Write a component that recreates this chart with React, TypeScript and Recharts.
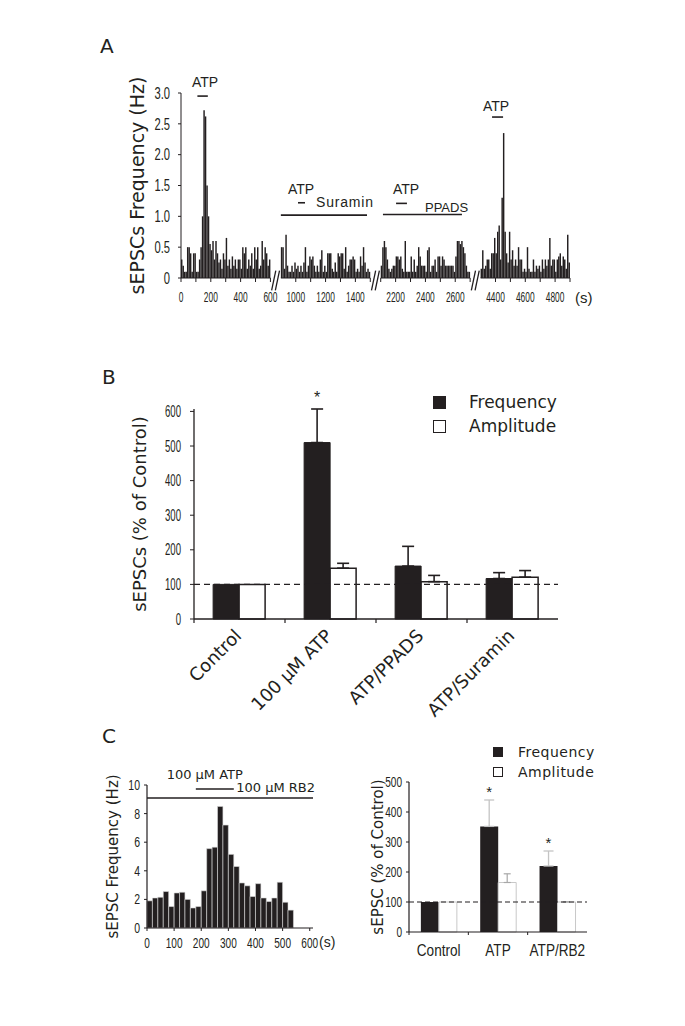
import React from "react";
import {
  BarChart,
  Bar,
  XAxis,
  YAxis,
  ReferenceLine,
  ReferenceDot,
  ErrorBar,
  LabelList,
  Legend,
} from "recharts";

const INK = "#231f20";
const NARROW = "'Liberation Sans', Arial, sans-serif";
const ROUND = "'DejaVu Sans', Verdana, sans-serif";

// ---------------- Panel A: sEPSC frequency, 10 s bins, four recording windows
const windowStartA = [0, 900, 2100, 4300]; // s
const WINDOW_LEN = 600; // s shown per window
const WINDOW_GAP = 70; // axis units kept blank for the break marks
const BIN_A = 10;

const ratesA1 = [
  0.3, 0.2, 0.1, 0.1, 0.5, 0.5, 0.4, 0.1, 0.4, 0.4,
  0.1, 0.1, 0.3, 0.5, 1.0, 2.72, 2.62, 1.5, 1.0, 0.55,
  0.45, 0.6, 0.3, 0.6, 0.4, 0.25, 0.3, 0.15, 0.4, 0.3,
  0.65, 0.2, 0.3, 0.15, 0.35, 0.2, 0.3, 0.15, 0.3, 0.3,
  0.15, 0.5, 0.4, 0.5, 0.15, 0.3, 0.2, 0.4, 0.15, 0.5,
  0.3, 0.5, 0.15, 0.2, 0.6, 0.3, 0.5, 0.4, 0.2, 0.3,
];
const ratesA2 = [
  0.5, 0.5, 0.15, 0.7, 0.2, 0.1, 0.1, 0.2, 0.1, 0.25,
  0.15, 0.2, 0.1, 0.2, 0.1, 0.25, 0.5, 0.1, 0.2, 0.35,
  0.3, 0.35, 0.2, 0.1, 0.2, 0.1, 0.3, 0.45, 0.1, 0.2,
  0.1, 0.4, 0.4, 0.4, 0.15, 0.1, 0.25, 0.1, 0.4, 0.35,
  0.4, 0.4, 0.15, 0.5, 0.1, 0.2, 0.3, 0.3, 0.35, 0.3,
  0.1, 0.15, 0.1, 0.35, 0.2, 0.5, 0.25, 0.1, 0.15, 0.1,
];
const ratesA3 = [
  0.2, 0.5, 0.6, 0.5, 0.3, 0.15, 0.1, 0.15, 0.2, 0.2,
  0.35, 0.35, 0.3, 0.35, 0.15, 0.1, 0.6, 0.1, 0.1, 0.1,
  0.35, 0.1, 0.3, 0.1, 0.2, 0.5, 0.35, 0.2, 0.2, 0.2,
  0.1, 0.45, 0.5, 0.1, 0.2, 0.2, 0.3, 0.1, 0.35, 0.35,
  0.2, 0.35, 0.3, 0.2, 0.2, 0.2, 0.2, 0.2, 0.2, 0.1,
  0.35, 0.6, 0.6, 0.55, 0.6, 0.5, 0.4, 0.2, 0.1, 0.1,
];
const ratesA4 = [
  0.15, 0.45, 0.15, 0.2, 0.3, 0.3, 0.15, 0.4, 0.4, 0.65,
  0.4, 0.75, 0.85, 0.3, 1.3, 2.35, 0.75, 0.4, 0.25, 0.75,
  0.3, 0.45, 0.2, 0.3, 0.2, 0.5, 0.3, 0.3, 0.1, 0.15,
  0.1, 0.5, 0.15, 0.1, 0.1, 0.3, 0.1, 0.2, 0.15, 0.2,
  0.1, 0.3, 0.15, 0.3, 0.2, 0.3, 0.65, 0.2, 0.3, 0.3,
  0.1, 0.3, 0.35, 0.4, 0.2, 0.35, 0.3, 0.15, 0.7, 0.25,
];
const windowRatesA = [ratesA1, ratesA2, ratesA3, ratesA4];

const tickTimesA = [
  [0, 100, 200, 300, 400, 500, 600],
  [1000, 1100, 1200, 1300, 1400, 1500],
  [2100, 2200, 2300, 2400, 2500, 2600, 2700],
  [4400, 4500, 4600, 4700, 4800, 4900],
];
const labelTimesA = [0, 200, 400, 600, 1000, 1200, 1400, 2200, 2400, 2600, 4400, 4600, 4800];
const yTicksA = [0, 0.5, 1, 1.5, 2, 2.5, 3];

// drug application bars (window, from s, to s, drawn at Hz)
const drugBarsA = [
  { w: 0, from: 110, to: 180, at: 2.95 },
  { w: 1, from: 900, to: 1478, at: 1.02 },
  { w: 1, from: 1015, to: 1062, at: 1.22 },
  { w: 2, from: 2115, to: 2645, at: 1.03 },
  { w: 2, from: 2203, to: 2276, at: 1.21 },
  { w: 3, from: 4377, to: 4451, at: 2.61 },
];
const drugTextA = [
  { w: 0, t: 161, at: 3.18, text: "ATP", anchor: "middle", size: 14, spacing: 0 },
  { w: 1, t: 1036, at: 1.44, text: "ATP", anchor: "middle", size: 14, spacing: 0 },
  { w: 1, t: 1136, at: 1.23, text: "Suramin", anchor: "start", size: 14, spacing: 0.8 },
  { w: 2, t: 2270, at: 1.44, text: "ATP", anchor: "middle", size: 14, spacing: 0 },
  { w: 2, t: 2397, at: 1.15, text: "PPADS", anchor: "start", size: 13, spacing: 0 },
  { w: 3, t: 4404, at: 2.79, text: "ATP", anchor: "middle", size: 14, spacing: 0 },
];

const STRIDE_A = WINDOW_LEN + WINDOW_GAP;
const DOMAIN_A = 4 * WINDOW_LEN + 3 * WINDOW_GAP;
const posA = (w: number, t: number) => w * STRIDE_A + (t - windowStartA[w]);
const timeAtPosA = (p: number) => {
  const w = Math.min(3, Math.floor(p / STRIDE_A));
  return Math.round(p - w * STRIDE_A + windowStartA[w]);
};

const dataA = windowRatesA.flatMap((rates, w) =>
  rates.map((rate, i) => ({ pos: posA(w, windowStartA[w] + i * BIN_A + BIN_A / 2), rate }))
);
const tickPosA = tickTimesA.flatMap((ts, w) => ts.map((t) => posA(w, t)));

// ---------------- Panel B: summary, % of control
const seriesOrder = ["Frequency", "Amplitude"];
const groupsB = ["Control", "100 \u03bcM ATP", "ATP/PPADS", "ATP/Suramin"];
const freqB = [100, 510, 153, 117];
const freqSemB = [0, 97, 57, 17];
const ampB = [100, 147, 108, 121];
const ampSemB = [0, 14, 18, 19];
const starB = ["", "*", "", ""];
const yTicksB = [0, 100, 200, 300, 400, 500, 600];

// ---------------- Panel C left: histogram, 20 s bins
const BIN_C = 20;
const binStartC = [0, 20, 40, 60, 80, 100, 120, 140, 160, 180, 200, 220, 240, 260, 280, 300, 320, 340, 360, 380, 400, 420, 440, 460, 480, 500, 520];
const rateC = [1.9, 2.1, 2.15, 2.55, 1.5, 2.45, 2.5, 2.0, 1.4, 1.5, 2.6, 5.55, 5.65, 8.5, 7.2, 5.15, 4.3, 3.15, 2.95, 2.2, 3.1, 2.1, 1.85, 2.1, 3.2, 1.8, 1.25];
const xTicksC = [0, 100, 200, 300, 400, 500, 600];
const yTicksC = [0, 2, 4, 6, 8, 10];

// ---------------- Panel C right: summary, % of control
const groupsC = ["Control", "ATP", "ATP/RB2"];
const freqC = [100, 352, 220];
const freqSemC = [0, 88, 50];
const ampC = [100, 165, 100];
const ampSemC = [0, 29, 1];
const starC = ["", "*", "*"];
const yTicksC2 = [0, 100, 200, 300, 400, 500];

const errPair = (e: number) => (e > 0 ? [0, e] : null);

const dataB = groupsB.map((group, i) => ({
  group,
  freq: freqB[i],
  amp: ampB[i],
  freqErr: errPair(freqSemB[i]),
  ampErr: errPair(ampSemB[i]),
  star: starB[i],
}));
const dataC = binStartC.map((s, i) => ({ t: s + BIN_C / 2, rate: rateC[i] }));
const dataC2 = groupsC.map((group, i) => ({
  group,
  freq: freqC[i],
  amp: ampC[i],
  freqErr: errPair(freqSemC[i]),
  ampErr: errPair(ampSemC[i]),
  star: starC[i],
}));

// ---------------- shared renderers
const narrowTick =
  (size: number, squeeze: number, fmt: (v: any) => string, dy: string, anchor: string) =>
  (props: any) => {
    const { x, y, payload } = props;
    const label = fmt(payload.value);
    if (!label) return <g />;
    return (
      <g transform={`translate(${x},${y})`}>
        <text transform={`scale(${squeeze},1)`} textAnchor={anchor} dy={dy} fontSize={size} fontFamily={NARROW} fill={INK}>
          {label}
        </text>
      </g>
    );
  };

const textShape =
  (text: string, size: number, anchor: string, family: string, spacing = 0) =>
  (p: any) => (
    <text x={p.cx} y={p.cy} dy="0.35em" textAnchor={anchor} fontSize={size} fontFamily={family} letterSpacing={spacing} fill={INK}>
      {text}
    </text>
  );

const starContent =
  (values: number[], sems: number[], stars: string[], size: number, lift: number) => (props: any) => {
    const i = props.index;
    if (!stars[i]) return null;
    const vb = props.viewBox ?? props;
    const k = vb.height / values[i];
    const top = vb.y - sems[i] * k;
    return (
      <text x={vb.x + vb.width / 2} y={top - lift} textAnchor="middle" fontSize={size} fontFamily={NARROW} fill={INK}>
        {stars[i]}
      </text>
    );
  };

const legendContent =
  (box: number, gap: number, size: number, row: number, spacing = 0) => (props: any) => {
    const items = [...(props.payload ?? [])].sort(
      (a: any, b: any) => seriesOrder.indexOf(a.value) - seriesOrder.indexOf(b.value)
    );
    return (
      <div style={{ fontFamily: ROUND, fontSize: size, color: INK, letterSpacing: spacing }}>
        {items.map((e: any) => (
          <div key={e.value} style={{ display: "flex", alignItems: "center", height: row }}>
            <span
              style={{
                display: "inline-block",
                width: box,
                height: box,
                boxSizing: "border-box",
                background: e.color,
                border: `1.5px solid ${INK}`,
              }}
            />
            <span style={{ marginLeft: gap }}>{e.value}</span>
          </div>
        ))}
      </div>
    );
  };

function PanelLetter({ left, top, children }: { left: number; top: number; children: string }) {
  return (
    <div style={{ position: "absolute", left, top, fontFamily: ROUND, fontSize: 20, lineHeight: 1, color: INK }}>
      {children}
    </div>
  );
}

// ---------------- Panel A
function FrequencyTrace() {
  return (
    <BarChart width={520} height={260} data={dataA} margin={{ top: 33, right: 45, bottom: 2, left: 0 }} barGap={0}>
      <XAxis
        type="number"
        dataKey="pos"
        domain={[0, DOMAIN_A]}
        ticks={tickPosA}
        interval={0}
        axisLine={false}
        tickLine={{ stroke: INK }}
        tickSize={4}
        tickMargin={10}
        height={40}
        tick={narrowTick(14, 0.6, (p) => {
          const t = timeAtPosA(p);
          return labelTimesA.includes(t) ? String(t) : "";
        }, "0.71em", "middle")}
        label={{ value: "(s)", position: "right", offset: 5, fontSize: 15, fontFamily: NARROW, fill: INK }}
      />
      <YAxis
        domain={[0, 3]}
        ticks={yTicksA}
        width={86}
        axisLine={{ stroke: INK }}
        tickLine={{ stroke: INK }}
        tickSize={3}
        tickMargin={8}
        tick={narrowTick(16, 0.7, (v) => (v === 0 ? "0" : v.toFixed(1)), "0.355em", "end")}
        label={{
          value: "sEPSCs Frequency (Hz)",
          angle: -90,
          position: "insideLeft",
          offset: 42,
          fontSize: 19,
          fontFamily: ROUND,
          fill: INK,
          style: { textAnchor: "middle" },
        }}
      />
      <Bar dataKey="rate" fill={INK} barSize={1.45} isAnimationActive={false} />
      {windowStartA.map((s, w) => (
        <ReferenceLine key={`base${w}`} segment={[{ x: posA(w, s), y: 0 }, { x: posA(w, s + WINDOW_LEN), y: 0 }]} stroke={INK} />
      ))}
      {[0, 1, 2].map((w) => {
        const g = w * STRIDE_A + WINDOW_LEN;
        return [8, 33].map((d) => (
          <ReferenceLine
            key={`brk${w}-${d}`}
            ifOverflow="visible"
            segment={[{ x: g + d, y: -0.2 }, { x: g + d + 28, y: 0.12 }]}
            stroke={INK}
            strokeWidth={1.3}
          />
        ));
      })}
      {drugBarsA.map((b, i) => (
        <ReferenceLine
          key={`drug${i}`}
          ifOverflow="visible"
          segment={[{ x: posA(b.w, b.from), y: b.at }, { x: posA(b.w, b.to), y: b.at }]}
          stroke={INK}
          strokeWidth={1.6}
        />
      ))}
      {drugTextA.map((d, i) => (
        <ReferenceDot
          key={`txt${i}`}
          x={posA(d.w, d.t)}
          y={d.at}
          r={1}
          ifOverflow="visible"
          shape={textShape(d.text, d.size, d.anchor, NARROW, d.spacing)}
        />
      ))}
    </BarChart>
  );
}

// ---------------- Panel B
const PLOT_W_B = 364;
const rotatedTickB = (props: any) => {
  const { x, y, payload } = props;
  const half = PLOT_W_B / groupsB.length / 2;
  return (
    <g>
      <line x1={x - half} x2={x - half} y1={y} y2={y + 4} stroke={INK} strokeWidth={1.2} />
      <text
        transform={`translate(${x + 3},${y + 18}) rotate(-45)`}
        textAnchor="end"
        fontSize={18}
        fontFamily={ROUND}
        fill={INK}
      >
        {payload.value}
      </text>
    </g>
  );
};

function SummaryB() {
  return (
    <BarChart
      width={500}
      height={350}
      data={dataB}
      margin={{ top: 29, right: 37, bottom: 26, left: 0 }}
      barCategoryGap="21%"
      barGap={0}
    >
      <XAxis
        dataKey="group"
        interval={0}
        tickLine={false}
        tickSize={0}
        tickMargin={0}
        height={85}
        axisLine={{ stroke: INK, strokeWidth: 1.5 }}
        tick={rotatedTickB}
      />
      <YAxis
        domain={[0, 600]}
        ticks={yTicksB}
        width={99}
        axisLine={{ stroke: INK, strokeWidth: 1.3 }}
        tickLine={{ stroke: INK }}
        tickSize={4}
        tickMargin={9}
        tick={narrowTick(16, 0.6, String, "0.355em", "end")}
        label={{
          value: "sEPSCs (% of Control)",
          angle: -90,
          position: "insideLeft",
          offset: 45,
          fontSize: 18,
          fontFamily: ROUND,
          fill: INK,
          style: { textAnchor: "middle" },
        }}
      />
      <Legend
        layout="vertical"
        align="center"
        verticalAlign="middle"
        wrapperStyle={{ left: 338, top: 10, width: 200 }}
        content={legendContent(13, 23, 17, 24)}
      />
      <Bar dataKey="freq" name="Frequency" fill={INK} stroke={INK} strokeWidth={1} isAnimationActive={false}>
        <ErrorBar dataKey="freqErr" direction="y" width={6} stroke={INK} strokeWidth={1.6} />
        <LabelList dataKey="star" content={starContent(freqB, freqSemB, starB, 16, 6)} />
      </Bar>
      <Bar dataKey="amp" name="Amplitude" fill="#ffffff" stroke={INK} strokeWidth={1.5} isAnimationActive={false}>
        <ErrorBar dataKey="ampErr" direction="y" width={6} stroke={INK} strokeWidth={1.6} />
      </Bar>
      <ReferenceLine y={100} stroke={INK} strokeDasharray="6 4" strokeWidth={1.1} />
    </BarChart>
  );
}

// ---------------- Panel C left
function HistogramC() {
  return (
    <BarChart width={250} height={200} data={dataC} margin={{ top: 25, right: 32, bottom: 4, left: 0 }} barGap={0}>
      <XAxis
        type="number"
        dataKey="t"
        domain={[0, 612]}
        ticks={xTicksC}
        interval={0}
        axisLine={{ stroke: INK, strokeWidth: 1.2 }}
        tickLine={{ stroke: INK }}
        tickSize={3}
        tickMargin={7}
        height={28}
        tick={narrowTick(14, 0.72, String, "0.71em", "middle")}
        label={{ value: "(s)", position: "right", offset: 6, fontSize: 14, fontFamily: NARROW, fill: INK }}
      />
      <YAxis
        domain={[0, 10]}
        ticks={yTicksC}
        width={52}
        axisLine={{ stroke: INK, strokeWidth: 1.2 }}
        tickLine={{ stroke: INK }}
        tickSize={3}
        tickMargin={4}
        tick={narrowTick(14, 0.75, String, "0.355em", "end")}
        label={{
          value: "sEPSC Frequency (Hz)",
          angle: -90,
          position: "insideLeft",
          offset: 18,
          fontSize: 15,
          fontFamily: ROUND,
          fill: INK,
          style: { textAnchor: "middle" },
        }}
      />
      <Bar dataKey="rate" fill={INK} stroke="#d8d8d8" strokeWidth={0.6} barSize={5.4} isAnimationActive={false} />
      <ReferenceLine segment={[{ x: 0, y: 9.09 }, { x: 612, y: 9.09 }]} stroke={INK} strokeWidth={1.6} />
      <ReferenceLine segment={[{ x: 180, y: 9.72 }, { x: 320, y: 9.72 }]} stroke={INK} strokeWidth={1.4} />
      <ReferenceDot x={213} y={10.77} r={1} ifOverflow="visible" shape={textShape("100 \u03bcM ATP", 13, "middle", ROUND)} />
      <ReferenceDot x={329} y={9.86} r={1} ifOverflow="visible" shape={textShape("100 \u03bcM RB2", 13, "start", ROUND)} />
    </BarChart>
  );
}

// ---------------- Panel C right
const PLOT_W_C = 178;
const flatTickC = (props: any) => {
  const { x, y, payload } = props;
  const half = PLOT_W_C / groupsC.length / 2;
  return (
    <g>
      <line x1={x - half} x2={x - half} y1={y} y2={y + 3} stroke={INK} />
      <g transform={`translate(${x},${y + 13})`}>
        <text transform="scale(0.85,1)" textAnchor="middle" dy="0.71em" fontSize={16} fontFamily={NARROW} fill={INK}>
          {payload.value}
        </text>
      </g>
    </g>
  );
};

function SummaryC() {
  return (
    <BarChart
      width={260}
      height={240}
      data={dataC2}
      margin={{ top: 47, right: 28, bottom: 7, left: 0 }}
      barCategoryGap="20%"
      barGap={0}
    >
      <XAxis
        dataKey="group"
        interval={0}
        tickLine={false}
        tickSize={0}
        tickMargin={0}
        height={36}
        axisLine={{ stroke: INK, strokeWidth: 1.2 }}
        tick={flatTickC}
      />
      <YAxis
        domain={[0, 500]}
        ticks={yTicksC2}
        width={54}
        axisLine={{ stroke: INK, strokeWidth: 1.2 }}
        tickLine={{ stroke: INK }}
        tickSize={3}
        tickMargin={4}
        tick={narrowTick(14, 0.72, String, "0.355em", "end")}
        label={{
          value: "sEPSC (% of Control)",
          angle: -90,
          position: "insideLeft",
          offset: 23,
          fontSize: 15,
          fontFamily: ROUND,
          fill: INK,
          style: { textAnchor: "middle" },
        }}
      />
      <Legend
        layout="vertical"
        align="center"
        verticalAlign="middle"
        wrapperStyle={{ left: 138, top: 7, width: 120 }}
        content={legendContent(10, 15, 14, 20, 0.5)}
      />
      <Bar dataKey="freq" name="Frequency" fill={INK} isAnimationActive={false}>
        <ErrorBar dataKey="freqErr" direction="y" width={5} stroke="#c4c4c4" strokeWidth={1.3} />
        <LabelList dataKey="star" content={starContent(freqC, freqSemC, starC, 15, 3)} />
      </Bar>
      <Bar dataKey="amp" name="Amplitude" fill="#ffffff" stroke="#c8c8c8" strokeWidth={1} isAnimationActive={false}>
        <ErrorBar dataKey="ampErr" direction="y" width={3.5} stroke="#a8a8a8" strokeWidth={1.2} />
      </Bar>
      <ReferenceLine y={100} stroke={INK} strokeDasharray="5 3" strokeWidth={1.2} />
    </BarChart>
  );
}

export default function App() {
  return (
    <div style={{ position: "relative", width: 669, height: 1010, color: INK }}>
      <PanelLetter left={92} top={28}>A</PanelLetter>
      <PanelLetter left={94} top={359}>B</PanelLetter>
      <PanelLetter left={94} top={718}>C</PanelLetter>
      <div style={{ position: "absolute", left: 87, top: 52 }}>
        <FrequencyTrace />
      </div>
      <div style={{ position: "absolute", left: 87, top: 372 }}>
        <SummaryB />
      </div>
      <div style={{ position: "absolute", left: 87, top: 752 }}>
        <HistogramC />
      </div>
      <div style={{ position: "absolute", left: 347, top: 727 }}>
        <SummaryC />
      </div>
    </div>
  );
}
